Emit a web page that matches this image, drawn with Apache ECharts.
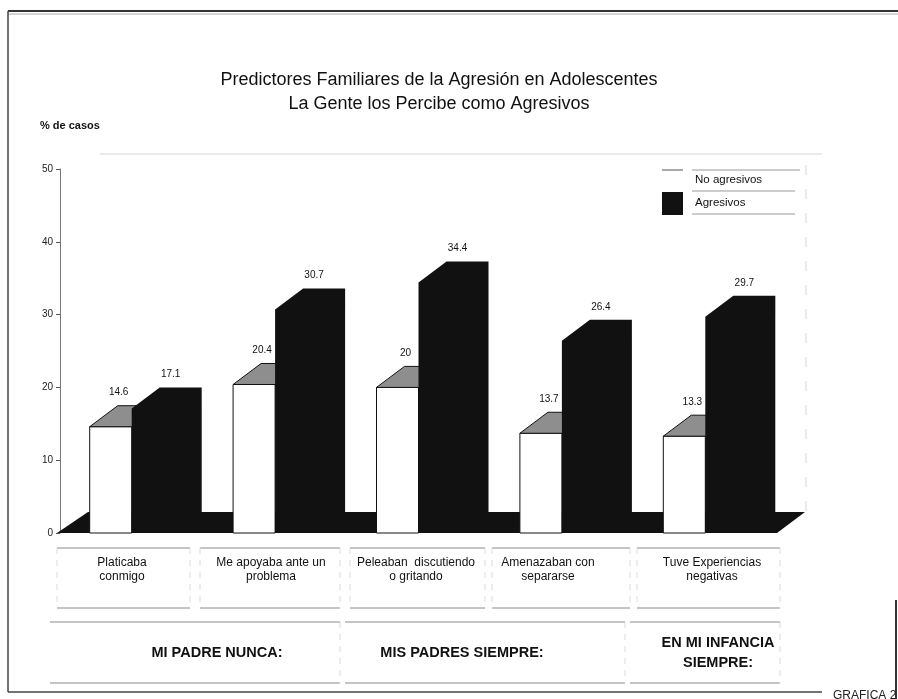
<!DOCTYPE html>
<html>
<head>
<meta charset="utf-8">
<script src="https://cdn.jsdelivr.net/npm/echarts@6/dist/echarts.min.js"></script>
<style>
html,body{margin:0;padding:0;background:#fff;}
#chart{width:898px;height:699px;}
</style>
</head>
<body>
<div id="chart"></div>
<script>
// ---- data ----
const titleLines = ['Predictores Familiares de la Agresión en Adolescentes', 'La Gente los Percibe como Agresivos'];
const yAxisName = '% de casos';
const categories = ['Platicaba\nconmigo', 'Me apoyaba ante un\nproblema', 'Peleaban  discutiendo\no gritando', 'Amenazaban con\nsepararse', 'Tuve Experiencias\nnegativas'];
const seriesNames = ['No agresivos', 'Agresivos'];
const noAgresivos = [14.6, 20.4, 20, 13.7, 13.3];
const agresivos = [17.1, 30.7, 34.4, 26.4, 29.7];
const yTicks = [0, 10, 20, 30, 40, 50];
const groupLabels = ['MI PADRE NUNCA:', 'MIS PADRES SIEMPRE:', 'EN MI INFANCIA\nSIEMPRE:'];
const footer = 'GRAFICA 2';

// ---- layout ----
const FONT = '"Liberation Sans", Arial, sans-serif';
const DX = 28, DY = -21, BAR_W = 42;
const catBoxes = [[57, 190], [200, 340], [350, 485], [492, 630], [637, 780]];
const catTextX = [122, 271, 416, 548, 712];
const catBoxY = [548, 608];
const groupBoxes = [[50, 340], [345, 625], [630, 780]];
const groupTextX = [217, 462, 718];
const groupBoxY = [622, 683];

const chart = echarts.init(document.getElementById('chart'), null, {renderer: 'canvas'});

function fmt(v) { return String(v); }

// 3D-looking bar: front face, top and side faces offset by (DX, DY)
function barRenderer(kind) {
  return function (params, api) {
    const idx = api.value(0), v = api.value(1);
    const base = api.coord([idx, 0]);
    const top = api.coord([idx, v]);
    const cx = base[0];
    const x0 = kind === 0 ? cx - BAR_W : cx;
    const x1 = x0 + BAR_W;
    const y0 = base[1], yt = top[1];
    const children = [];
    if (kind === 0) {
      children.push({type: 'rect', shape: {x: x0, y: yt, width: BAR_W, height: y0 - yt},
        style: {fill: '#fff', stroke: '#111', lineWidth: 1}});
      children.push({type: 'polygon', shape: {points: [[x0, yt], [x0 + DX, yt + DY], [x1 + DX, yt + DY], [x1, yt]]},
        style: {fill: '#8e8e8e', stroke: '#111', lineWidth: 1}});
    } else {
      children.push({type: 'polygon', shape: {points: [[x0, y0], [x0, yt], [x0 + DX, yt + DY], [x1 + DX, yt + DY], [x1 + DX, y0 + DY], [x1, y0]]},
        style: {fill: '#111'}});
    }
    children.push({type: 'text', style: {text: fmt(v), x: (x0 + x1) / 2 + (kind === 0 ? 8 : 18), y: yt + DY - 13,
      align: 'center', verticalAlign: 'middle', font: '10px ' + FONT, fill: '#111'}});
    return {type: 'group', children};
  };
}

// dark floor under the bars
function floorRenderer(params, api) {
  const cs = params.coordSys;
  const y0 = api.coord([0, 0])[1];
  const xl = cs.x - 3, xr = cs.x + cs.width;
  return {type: 'polygon', shape: {points: [[xl, y0], [xl + DX + 3, y0 + DY], [xr + DX, y0 + DY], [xr, y0]]},
    style: {fill: '#111'}};
}

const graphics = [];
// page frame
graphics.push({type: 'line', shape: {x1: 8, y1: 11, x2: 898, y2: 11}, style: {stroke: '#333', lineWidth: 2}});
graphics.push({type: 'line', shape: {x1: 8, y1: 14, x2: 898, y2: 14}, style: {stroke: '#aaa', lineWidth: 1}});
graphics.push({type: 'line', shape: {x1: 8, y1: 11, x2: 8, y2: 692}, style: {stroke: '#444', lineWidth: 1.5}});
graphics.push({type: 'line', shape: {x1: 8, y1: 692, x2: 822, y2: 692}, style: {stroke: '#444', lineWidth: 1.5}});
graphics.push({type: 'line', shape: {x1: 896, y1: 600, x2: 896, y2: 699}, style: {stroke: '#333', lineWidth: 2}});
graphics.push({type: 'text', style: {text: footer, x: 833, y: 690, align: 'left', verticalAlign: 'top', font: '12px ' + FONT, fill: '#222'}});
// back wall edges
graphics.push({type: 'line', shape: {x1: 100, y1: 154, x2: 822, y2: 154}, style: {stroke: '#d6d6d6', lineWidth: 1}});
graphics.push({type: 'line', shape: {x1: 806, y1: 165, x2: 806, y2: 512}, style: {stroke: '#d8d8d8', lineWidth: 1, lineDash: [10, 14]}});
// y axis name
graphics.push({type: 'text', style: {text: yAxisName, x: 40, y: 126, verticalAlign: 'middle', font: 'bold 11px ' + FONT, fill: '#111'}});
// legend
graphics.push({type: 'line', shape: {x1: 662, y1: 170, x2: 683, y2: 170}, style: {stroke: '#555', lineWidth: 1}});
graphics.push({type: 'line', shape: {x1: 692, y1: 170, x2: 800, y2: 170}, style: {stroke: '#999', lineWidth: 1}});
graphics.push({type: 'line', shape: {x1: 692, y1: 191, x2: 795, y2: 191}, style: {stroke: '#999', lineWidth: 1}});
graphics.push({type: 'line', shape: {x1: 692, y1: 214, x2: 795, y2: 214}, style: {stroke: '#999', lineWidth: 1}});
graphics.push({type: 'rect', shape: {x: 662, y: 192, width: 21, height: 23}, style: {fill: '#111'}});
graphics.push({type: 'text', style: {text: seriesNames[0], x: 695, y: 180, verticalAlign: 'middle', font: '11.5px ' + FONT, fill: '#111'}});
graphics.push({type: 'text', style: {text: seriesNames[1], x: 695, y: 203, verticalAlign: 'middle', font: '11.5px ' + FONT, fill: '#111'}});
// category boxes
categories.forEach((c, i) => {
  const [a, b] = catBoxes[i];
  graphics.push({type: 'line', shape: {x1: a, y1: catBoxY[0], x2: b, y2: catBoxY[0]}, style: {stroke: '#8a8a8a', lineWidth: 1}});
  graphics.push({type: 'line', shape: {x1: a, y1: catBoxY[1], x2: b, y2: catBoxY[1]}, style: {stroke: '#8a8a8a', lineWidth: 1}});
  graphics.push({type: 'line', shape: {x1: a, y1: catBoxY[0], x2: a, y2: catBoxY[1]}, style: {stroke: '#dcdcdc', lineWidth: 1, lineDash: [6, 6]}});
  graphics.push({type: 'line', shape: {x1: b, y1: catBoxY[0], x2: b, y2: catBoxY[1]}, style: {stroke: '#dcdcdc', lineWidth: 1, lineDash: [6, 6]}});
  graphics.push({type: 'text', style: {text: c, x: catTextX[i], y: 570, align: 'center', verticalAlign: 'middle',
    font: '12px ' + FONT, lineHeight: 14, fill: '#111'}});
});
// group boxes
groupLabels.forEach((g, i) => {
  const [a, b] = groupBoxes[i];
  graphics.push({type: 'line', shape: {x1: a, y1: groupBoxY[0], x2: b, y2: groupBoxY[0]}, style: {stroke: '#8a8a8a', lineWidth: 1}});
  graphics.push({type: 'line', shape: {x1: a, y1: groupBoxY[1], x2: b, y2: groupBoxY[1]}, style: {stroke: '#8a8a8a', lineWidth: 1}});
  graphics.push({type: 'line', shape: {x1: b, y1: groupBoxY[0], x2: b, y2: groupBoxY[1]}, style: {stroke: '#dcdcdc', lineWidth: 1, lineDash: [6, 6]}});
  graphics.push({type: 'text', style: {text: g, x: groupTextX[i], y: 653, align: 'center', verticalAlign: 'middle',
    font: 'bold 14.5px ' + FONT, lineHeight: 20, fill: '#111'}});
});

chart.setOption({
  animation: false,
  backgroundColor: '#fff',
  title: {
    text: titleLines.join('\n'),
    left: 434, top: 63, textAlign: 'center',
    textStyle: {fontFamily: FONT, fontWeight: 'normal', fontSize: 18, lineHeight: 24, color: '#111'}
  },
  grid: {left: 60, top: 169, width: 717, height: 364},
  xAxis: {
    type: 'category', data: categories,
    axisLine: {show: false}, axisTick: {show: false}, axisLabel: {show: false}, splitLine: {show: false}
  },
  yAxis: {
    type: 'value', min: yTicks[0], max: yTicks[yTicks.length - 1], interval: 10,
    axisLine: {show: true, lineStyle: {color: '#777', width: 1}},
    axisTick: {show: true, length: 4, lineStyle: {color: '#555'}},
    axisLabel: {fontFamily: FONT, fontSize: 10, color: '#222', margin: 7},
    splitLine: {show: false}
  },
  graphic: graphics,
  series: [
    {type: 'custom', name: 'floor', renderItem: floorRenderer, data: [[0, 0]], silent: true, z: 1},
    {type: 'custom', name: seriesNames[0], renderItem: barRenderer(0), data: noAgresivos.map((v, i) => [i, v]), encode: {x: 0, y: 1}, z: 2},
    {type: 'custom', name: seriesNames[1], renderItem: barRenderer(1), data: agresivos.map((v, i) => [i, v]), encode: {x: 0, y: 1}, z: 3}
  ]
});
</script>
</body>
</html>
